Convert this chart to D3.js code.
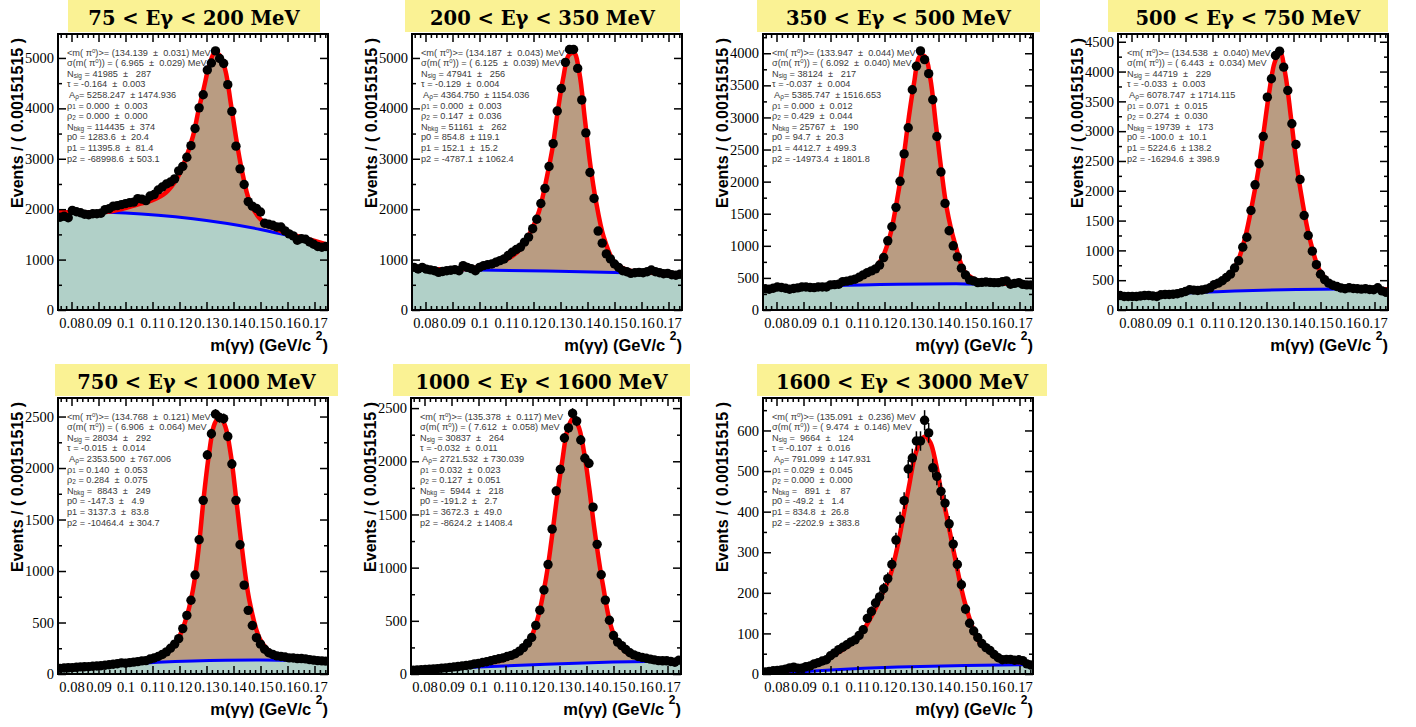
<!DOCTYPE html>
<html><head><meta charset="utf-8">
<script src="https://cdn.jsdelivr.net/npm/d3@7"></script>
<style>body{margin:0;background:#fff;} text{white-space:pre;}</style>
</head><body><svg id="c" width="1416" height="727"></svg>
<script>
// ---------------- data ----------------
const titles = ["75 < Eγ < 200 MeV","200 < Eγ < 350 MeV","350 < Eγ < 500 MeV","500 < Eγ < 750 MeV",
                "750 < Eγ < 1000 MeV","1000 < Eγ < 1600 MeV","1600 < Eγ < 3000 MeV"];
const xLo = 0.075, xHi = 0.175, nBins = 66;
const xMajorTicks = [0.08,0.09,0.10,0.11,0.12,0.13,0.14,0.15,0.16,0.17];
const yMax = [5475, 5475, 4300, 4630, 2680, 2595, 680];
const yMajorStep = [1000, 1000, 500, 500, 500, 500, 100];
const yMinorStep = [500, 500, 250, 250, 250, 250, 50];

const counts1 = [1840,1860,1830,1975,1950,1930,1900,1890,1910,1910,1920,1990,2010,2060,2070,2090,2110,2130,2140,2210,
 2200,2170,2260,2290,2380,2440,2500,2540,2600,2760,2850,3030,3260,3600,4010,4270,4760,4900,5140,4990,
 4890,4470,3940,3250,2800,2490,2150,2060,2015,1943,1720,1700,1680,1646,1646,1570,1510,1470,1383,1416,
 1403,1350,1304,1260,1245,1260];
const counts2 = [846,813,846,810,795,780,746,765,780,790,800,780,880,846,820,780,846,880,900,913,
 946,980,1013,1080,1146,1200,1246,1346,1446,1613,1800,2113,2413,2847,3300,3947,4393,4913,5167,5167,
 4793,4167,3513,2727,2213,1566,1326,1113,1013,913,846,780,760,726,740,746,740,760,793,760,
 740,720,726,700,690,710];
const counts3 = [330,323,339,359,350,339,323,335,345,359,359,350,348,359,359,359,391,395,401,442,
 450,464,480,510,547,583,610,640,700,817,1078,1297,1599,2005,2432,2839,3432,3797,4036,3901,
 3682,3276,2703,2150,1661,1234,1000,828,652,547,470,453,427,430,437,430,427,427,440,453,
 401,415,427,400,391,391];
const counts4 = [243,226,226,226,226,235,243,243,235,226,255,260,260,265,272,290,310,339,333,327,
 335,350,372,425,450,490,545,601,705,826,1054,1221,1669,2100,2453,2911,3571,3879,4270,4342,
 4074,3683,3124,2777,2190,1586,1250,987,760,600,510,450,415,394,370,356,372,360,356,350,
 356,345,339,372,320,299];
const counts5 = [55,58,60,62,65,69,70,72,75,78,80,85,90,95,100,108,105,110,115,120,
 127,130,145,155,170,190,215,250,290,343,441,569,716,961,1304,1686,2127,2333,2523,2490,
 2480,2307,2039,1686,1255,863,618,471,353,290,240,206,190,176,170,165,157,155,150,150,
 147,140,135,130,127,125];
const counts6 = [35,38,40,42,45,48,50,55,58,62,67,70,75,80,85,95,100,108,115,125,
 135,143,150,165,175,190,215,248,290,343,457,600,790,1029,1362,1721,1924,2219,2314,2450,
 2378,2200,2029,1981,1569,1219,933,695,505,362,300,267,230,200,180,165,155,148,140,133,
 126,124,124,118,110,130];
const counts7 = [5,6,8,9,10,12,15,17,14,14,18,20,25,28,32,35,45,52,60,66,
 72,79,84,95,109,137,154,175,190,210,235,270,330,380,427,505,532,574,574,625,
 594,508,487,450,421,370,320,270,220,160,125,106,90,75,65,58,48,40,35,36,
 36,34,35,33,25,22];

// total fit curve, sampled at fitX
const fitX = [0.075,0.085,0.095,0.105,0.110,0.115,0.119,0.122,0.125,0.127,0.129,0.131,0.133,0.135,0.137,0.139,0.141,0.143,0.146,0.150,0.155,0.160,0.165,0.175];
const fit1 = [1945,1935,1960,2100,2180,2330,2600,2960,3450,3950,4400,4850,5100,5050,4750,4100,3400,2800,2150,1800,1620,1520,1445,1295];
const fit2 = [820,810,815,910,1000,1200,1560,1950,2650,3200,3950,4600,5050,5100,4700,3800,2900,2200,1450,950,790,750,735,712];
const fit3 = [340,352,370,420,480,590,800,1150,1800,2350,3000,3550,3950,3950,3600,2900,2200,1600,1050,580,450,420,410,398];
const fit4 = [225,255,280,330,410,530,780,1200,1850,2350,3000,3650,4150,4330,3950,3250,2500,1900,1200,640,420,370,355,348];
const fit5 = [55,72,90,110,140,210,320,500,820,1200,1720,2150,2430,2500,2400,2130,1700,1250,700,330,190,160,145,130];
const fit6 = [35,55,75,110,140,210,320,530,900,1250,1650,2000,2300,2400,2330,2100,1750,1350,850,380,200,150,135,125];
const fit7 = [3,10,25,62,88,140,195,240,320,390,460,530,570,585,570,520,450,390,290,170,80,50,35,25];

// background component, sampled at bkgX
const bkgX = [0.075,0.100,0.125,0.150,0.175];
const bkg1 = [1943,1924,1809,1598,1292];
const bkg2 = [811,794,772,744,710];
const bkg3 = [331,375,400,407,396];
const bkg4 = [220,286,328,349,347];
const bkg5 = [45,96,126,136,126];
const bkg6 = [30,65,92,112,122];
const bkg7 = [0,10,17,21,23];

// fit parameter box values
const stat1 = ["134.139  ±  0.031","6.965  ±  0.029","41985  ±   287","-0.164  ±  0.003","5258.247  ± 1474.936","0.000  ±  0.003","0.000  ±  0.000","114435  ±  374","1283.6  ±  20.4","11395.8  ±  81.4","-68998.6  ± 503.1"];
const stat2 = ["134.187  ±  0.043","6.125  ±  0.039","47941  ±   256","-0.129  ±  0.004","4364.750  ± 1154.036","0.000  ±  0.003","0.147  ±  0.036","51161  ±   262","854.8  ± 119.1","152.1  ±  15.2","-4787.1  ± 1062.4"];
const stat3 = ["133.947  ±  0.044","6.092  ±  0.040","38124  ±   217","-0.037  ±  0.004","5385.747  ± 1516.653","0.000  ±  0.012","0.429  ±  0.044","25767  ±   190","94.7  ±  20.3","4412.7  ± 499.3","-14973.4  ± 1801.8"];
const stat4 = ["134.538  ±  0.040","6.443  ±  0.034","44719  ±   229","-0.033  ±  0.003","6078.747  ± 1714.115","0.071  ±  0.015","0.274  ±  0.030","19739  ±   173","-100.0  ±  10.1","5224.6  ± 138.2","-16294.6  ± 398.9"];
const stat5 = ["134.768  ±  0.121","6.906  ±  0.064","28034  ±   292","-0.015  ±  0.014","2353.500  ± 767.006","0.140  ±  0.053","0.284  ±  0.075"," 8843  ±   249","-147.3  ±   4.9","3137.3  ±  83.8","-10464.4  ± 304.7"];
const stat6 = ["135.378  ±  0.117","7.612  ±  0.058","30837  ±   264","-0.032  ±  0.011","2721.532  ± 730.039","0.032  ±  0.023","0.127  ±  0.051"," 5944  ±   218","-191.2  ±   2.7","3672.3  ±  49.0","-8624.2  ± 1408.4"];
const stat7 = ["135.091  ±  0.236","9.474  ±  0.146"," 9664  ±   124","-0.107  ±  0.016","791.099  ± 147.931","0.029  ±  0.045","0.000  ±  0.000","  891  ±    87","-49.2  ±   1.4","834.8  ±  26.8","-2202.9  ± 383.8"];

const counts = [counts1,counts2,counts3,counts4,counts5,counts6,counts7];
const fits = [fit1,fit2,fit3,fit4,fit5,fit6,fit7];
const bkgs = [bkg1,bkg2,bkg3,bkg4,bkg5,bkg6,bkg7];
const stats = [stat1,stat2,stat3,stat4,stat5,stat6,stat7];

// ---------------- layout / style ----------------
const panelLeft = [58, 412, 763, 1118, 58, 411, 763];
const panelTop  = [34, 34, 34, 34, 398, 398, 398];
const PW = 270, PH = 276;
const titleBox = [[68,320,0],[405,680,0],[757,1040,0],[1108,1388,0],[55,338,364],[393,690,364],[757,1047,364]];
const TB_H = 32;
const C = {yellow:"#faf294", brown:"#b99c82", teal:"#b1d0c8", red:"#ff0000", blue:"#0000ff", text:"#3a3a3a"};
const STAT_FS = 9.2, STAT_LH = 10.6;

const statTemplate = [
  [["<m( π",""],["0","sup"],[")>= (VAL) MeV",""]],
  [["σ(m( π",""],["0","sup"],[")) = ( VAL) MeV",""]],
  [["N",""],["sig","sub"],[" = VAL",""]],
  [["τ = VAL",""]],
  [[" A",""],["ρ","sub"],["= VAL",""]],
  [["ρ",""],["1","sub"],[" = VAL",""]],
  [["ρ",""],["2","sub"],[" = VAL",""]],
  [["N",""],["bkg","sub"],[" = VAL",""]],
  [["p0 = VAL",""]],
  [["p1 = VAL",""]],
  [["p2 = VAL",""]]
];

const svg = d3.select("#c");
svg.append("rect").attr("width",1416).attr("height",727).attr("fill","#fff");
const defs = svg.append("defs");
const binW = (xHi - xLo) / nBins;
const xMinorTicks = d3.range(38, 88).map(k => +(k*0.002).toFixed(3)).filter(v => Math.abs(v*100 - Math.round(v*100)) > 1e-6);

counts.forEach((cnt, k) => {
  const x0 = panelLeft[k], y0 = panelTop[k];
  const x = d3.scaleLinear().domain([xLo, xHi]).range([x0, x0 + PW]);
  const y = d3.scaleLinear().domain([0, yMax[k]]).range([y0 + PH, y0]);
  const g = svg.append("g");

  // title
  const tb = titleBox[k];
  g.append("rect").attr("x", tb[0]).attr("y", tb[2]).attr("width", tb[1]-tb[0]).attr("height", TB_H).attr("fill", C.yellow);
  g.append("text").attr("x", (tb[0]+tb[1])/2).attr("y", tb[2] + 25).attr("text-anchor","middle")
    .attr("font-family","'DejaVu Serif', serif").attr("font-weight","bold").attr("font-size", 19.5)
    .attr("fill","#000").text(titles[k]);

  // clip
  defs.append("clipPath").attr("id","clip"+k).append("rect").attr("x",x0).attr("y",y0).attr("width",PW).attr("height",PH);
  const plot = g.append("g").attr("clip-path", `url(#clip${k})`);

  const fitPts = fitX.map((xv,i) => [xv, fits[k][i]]);
  const bkgPts = bkgX.map((xv,i) => [xv, bkgs[k][i]]);
  const cFit = d3.curveCatmullRom.alpha(0.5), cBkg = d3.curveNatural;

  plot.append("path").datum(fitPts).attr("fill", C.brown)
    .attr("d", d3.area().x(d=>x(d[0])).y0(y(0)).y1(d=>y(d[1])).curve(cFit));
  plot.append("path").datum(bkgPts).attr("fill", C.teal)
    .attr("d", d3.area().x(d=>x(d[0])).y0(y(0)).y1(d=>y(d[1])).curve(cBkg));
  plot.append("path").datum(bkgPts).attr("fill","none").attr("stroke",C.blue).attr("stroke-width",3)
    .attr("d", d3.line().x(d=>x(d[0])).y(d=>y(d[1])).curve(cBkg));
  plot.append("path").datum(fitPts).attr("fill","none").attr("stroke",C.red).attr("stroke-width",4.5)
    .attr("d", d3.line().x(d=>x(d[0])).y(d=>y(d[1])).curve(cFit));

  // stats text
  const st = g.append("g").attr("font-family","'Liberation Sans', Arial, sans-serif").attr("font-size",STAT_FS).attr("fill",C.text);
  statTemplate.forEach((segs, j) => {
    const t = st.append("text").attr("x", x0 + 9).attr("y", y0 + 21.5 + j*STAT_LH);
    let shift = 0;
    segs.forEach(([s, kind]) => {
      const txt = s.replace("VAL", stats[k][j]);
      const target = kind === "sup" ? -3 : kind === "sub" ? 0.8 : 0;
      t.append("tspan").attr("dy", target - shift).attr("font-size", kind === "sup" ? 6 : kind === "sub" ? 6.5 : null).text(txt);
      shift = target;
    });
  });

  // data points with error bars
  const pts = g.append("g").attr("clip-path", `url(#clip${k})`);
  cnt.forEach((v, i) => {
    const xc = xLo + (i + 0.5) * binW;
    const e = Math.sqrt(v);
    pts.append("line").attr("x1", x(xc)).attr("x2", x(xc)).attr("y1", y(v - e)).attr("y2", y(v + e))
      .attr("stroke","#000").attr("stroke-width",1.5);
    pts.append("line").attr("x1", x(xc - binW/2)).attr("x2", x(xc + binW/2)).attr("y1", y(v)).attr("y2", y(v))
      .attr("stroke","#000").attr("stroke-width",1.5);
    pts.append("circle").attr("cx", x(xc)).attr("cy", y(v)).attr("r", 4.7).attr("fill","#000");
  });

  // axes
  const yMaj = d3.range(0, yMax[k] + 1, yMajorStep[k]);
  const yMin = d3.range(0, yMax[k] + 1, yMinorStep[k]).filter(v => v % yMajorStep[k] !== 0);
  const styleAxis = (sel) => {
    sel.select(".domain").remove();
    sel.selectAll("line").attr("stroke","#000").attr("stroke-width",1.5);
    sel.attr("font-family","'Liberation Serif', 'Times New Roman', serif").attr("font-size",14.5).attr("fill","#000");
    sel.selectAll("text").attr("fill","#000");
  };
  const fmtX = d => String(+d.toFixed(2));
  g.append("g").attr("transform",`translate(0,${y0+PH})`)
    .call(d3.axisBottom(x).tickValues(xMajorTicks).tickSize(-8).tickPadding(8).tickFormat(fmtX)).call(styleAxis);
  g.append("g").attr("transform",`translate(0,${y0+PH})`)
    .call(d3.axisBottom(x).tickValues(xMinorTicks).tickSize(-4).tickFormat("")).call(styleAxis);
  g.append("g").attr("transform",`translate(0,${y0})`)
    .call(d3.axisTop(x).tickValues(xMajorTicks).tickSize(-8).tickFormat("")).call(styleAxis);
  g.append("g").attr("transform",`translate(0,${y0})`)
    .call(d3.axisTop(x).tickValues(xMinorTicks).tickSize(-4).tickFormat("")).call(styleAxis);
  g.append("g").attr("transform",`translate(${x0},0)`)
    .call(d3.axisLeft(y).tickValues(yMaj).tickSize(-8).tickPadding(4).tickFormat(d3.format("d"))).call(styleAxis);
  g.append("g").attr("transform",`translate(${x0},0)`)
    .call(d3.axisLeft(y).tickValues(yMin).tickSize(-4).tickFormat("")).call(styleAxis);
  g.append("g").attr("transform",`translate(${x0+PW},0)`)
    .call(d3.axisRight(y).tickValues(yMaj).tickSize(-8).tickFormat("")).call(styleAxis);
  g.append("g").attr("transform",`translate(${x0+PW},0)`)
    .call(d3.axisRight(y).tickValues(yMin).tickSize(-4).tickFormat("")).call(styleAxis);

  // frame
  g.append("rect").attr("x",x0).attr("y",y0).attr("width",PW).attr("height",PH)
    .attr("fill","none").attr("stroke","#000").attr("stroke-width",2);

  // axis titles
  g.append("text").attr("transform",`translate(${x0-35},${y0+4}) rotate(-90)`).attr("text-anchor","end")
    .attr("font-family","'Liberation Sans', Arial, sans-serif").attr("font-weight","bold").attr("font-size",16)
    .text("Events / ( 0.00151515 )");
  const xt = g.append("text").attr("x", x0 + PW).attr("y", y0 + PH + 41).attr("text-anchor","end")
    .attr("font-family","'Liberation Sans', Arial, sans-serif").attr("font-weight","bold").attr("font-size",16.5);
  xt.append("tspan").text("m(γγ) (GeV/c ");
  xt.append("tspan").attr("dy",-11).attr("font-size",12).text("2");
  xt.append("tspan").attr("dy",11).text(")");
});
</script></body></html>
